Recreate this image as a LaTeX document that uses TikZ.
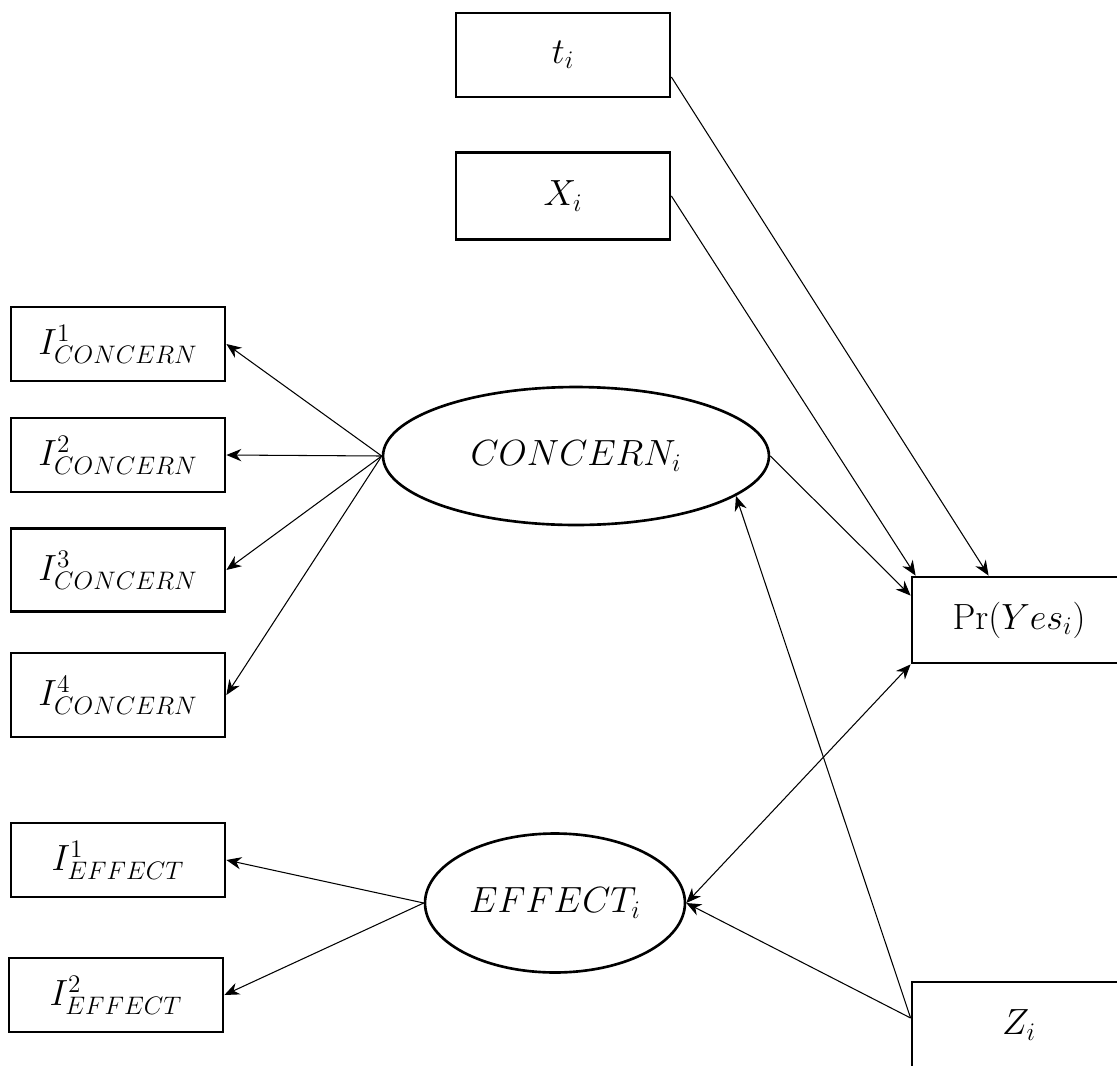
\documentclass[tikz,border=0pt]{standalone}
\usetikzlibrary{shapes.geometric,arrows.meta}
\begin{document}
\begin{tikzpicture}[->, >={Stealth[length=8.5pt,width=7pt]}, x=0.02cm, y=-0.02cm, line width=0.6pt, node distance=2.82cm,
                   box node/.style={rectangle, draw, line width=1.6pt, minimum width=4.28cm, minimum height=1.48cm, inner sep=0pt},
                   latent node/.style={ellipse, draw, line width=1.5pt, inner sep=0pt}]
                \tikzstyle{every node}=[font=\fontsize{20}{24}\selectfont]
                \useasboundingbox (0,0) rectangle (1117,1066);

                  \node[box node, minimum height=1.68cm] (1) at (563,55) {$t_i$};
                  \node[box node, minimum height=1.74cm] (2) [below of=1] {$X_i$};
                  \node[latent node, minimum width=7.72cm, minimum height=2.76cm] (3) at (576,456) {$CONCERN_i$};
                  \node[latent node, minimum width=5.2cm, minimum height=2.78cm] (4) at (555,903) {$EFFECT_i$};
                  \node[box node, minimum height=1.72cm] (5) at (1019,620) {$\mathrm{Pr}(Yes_i)$};
                  \node[box node, minimum height=1.72cm] (6) at (1019,1025) {$Z_i$};

                  \node[box node] (7) at (118,344) {$I^1_{CONCERN}$};
                  \node[box node] (8) at (118,455) {$I^2_{CONCERN}$};
                  \node[box node, minimum height=1.66cm] (9) at (118,570) {$I^3_{CONCERN}$};
                  \node[box node, minimum height=1.68cm] (10) at (118,695) {$I^4_{CONCERN}$};
                  \node[box node] (11) at (118,860) {$I^1_{EFFECT}$};
                  \node[box node] (12) at (116,995) {$I^2_{EFFECT}$};

                  \coordinate (zleft) at ([yshift=0.14cm]6.west);

                  % loadings
                  \path (3.west) edge (7.east)
                                 edge (8.east)
                                 edge (9.east)
                                 edge (10.east);
                  \path (4.west) edge (11.east)
                                 edge (12.east);

                  % paths into the outcome
                  \path ([yshift=-0.44cm]1.east) edge ([xshift=1.56cm]5.north west);
                  \path (2.east) edge ([xshift=0.1cm]5.north west);
                  \path (3.east) edge ([yshift=-0.4cm]5.north west);
                  \path (4.east) edge[<->] (5.south west);

                  \path (zleft) edge (4.east)
                                edge (3.-14);

                \end{tikzpicture}
\end{document}
